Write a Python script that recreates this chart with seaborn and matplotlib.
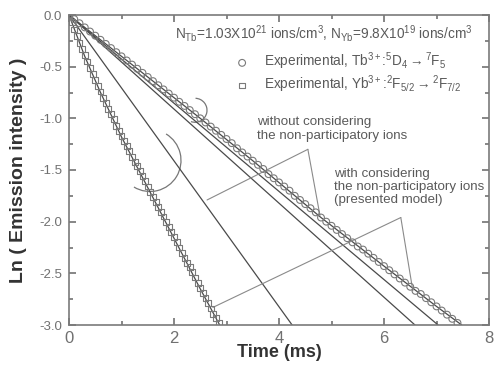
import numpy as np
import pandas as pd
import matplotlib
matplotlib.use("Agg")
import matplotlib.pyplot as plt
from matplotlib.patches import Arc
from matplotlib.ticker import MultipleLocator
import seaborn as sns

# ---------------- data ----------------
tb_time = [0.0, 0.1, 0.2, 0.3, 0.4, 0.5, 0.6, 0.7, 0.8, 0.9, 1.0, 1.1, 1.2, 1.3, 1.4,
           1.5, 1.6, 1.7, 1.8, 1.9, 2.0, 2.1, 2.2, 2.3, 2.4, 2.5, 2.6, 2.7, 2.8, 2.9,
           3.0, 3.1, 3.2, 3.3, 3.4, 3.5, 3.6, 3.7, 3.8, 3.9, 4.0, 4.1, 4.2, 4.3, 4.4,
           4.5, 4.6, 4.7, 4.8, 4.9, 5.0, 5.1, 5.2, 5.3, 5.4, 5.5, 5.6, 5.7, 5.8, 5.9,
           6.0, 6.1, 6.2, 6.3, 6.4, 6.5, 6.6, 6.7, 6.8, 6.9, 7.0, 7.1, 7.2, 7.3, 7.4]
tb_ln = [0.00, -0.04, -0.08, -0.12, -0.16, -0.20, -0.24, -0.28, -0.32, -0.36, -0.40,
         -0.44, -0.48, -0.52, -0.56, -0.60, -0.64, -0.68, -0.72, -0.76, -0.80, -0.84,
         -0.88, -0.92, -0.96, -1.00, -1.04, -1.08, -1.12, -1.16, -1.20, -1.24, -1.29,
         -1.33, -1.37, -1.41, -1.45, -1.49, -1.54, -1.58, -1.62, -1.66, -1.70, -1.75,
         -1.79, -1.83, -1.87, -1.91, -1.96, -2.00, -2.04, -2.08, -2.12, -2.16, -2.20,
         -2.24, -2.27, -2.31, -2.35, -2.39, -2.43, -2.47, -2.51, -2.55, -2.59, -2.63,
         -2.67, -2.70, -2.74, -2.78, -2.82, -2.86, -2.90, -2.94, -2.98]

yb_time = [0.00, 0.05, 0.10, 0.15, 0.20, 0.25, 0.30, 0.35, 0.40, 0.45, 0.50, 0.55,
           0.60, 0.65, 0.70, 0.75, 0.80, 0.85, 0.90, 0.95, 1.00, 1.05, 1.10, 1.15,
           1.20, 1.25, 1.30, 1.35, 1.40, 1.45, 1.50, 1.55, 1.60, 1.65, 1.70, 1.75,
           1.80, 1.85, 1.90, 1.95, 2.00, 2.05, 2.10, 2.15, 2.20, 2.25, 2.30, 2.35,
           2.40, 2.45, 2.50, 2.55, 2.60, 2.65, 2.70, 2.75, 2.80, 2.85]
yb_ln = [0.00, -0.07, -0.14, -0.20, -0.27, -0.33, -0.39, -0.45, -0.51, -0.57, -0.63,
         -0.69, -0.74, -0.80, -0.85, -0.91, -0.96, -1.01, -1.07, -1.12, -1.17, -1.22,
         -1.27, -1.32, -1.37, -1.42, -1.46, -1.51, -1.56, -1.61, -1.66, -1.71, -1.76,
         -1.81, -1.86, -1.91, -1.95, -2.00, -2.05, -2.10, -2.15, -2.20, -2.25, -2.30,
         -2.35, -2.40, -2.44, -2.49, -2.54, -2.59, -2.64, -2.69, -2.74, -2.79, -2.84,
         -2.89, -2.93, -2.98]

# model curves (with considering the non-participatory ions)
tb_model_t = [0.0, 1.0, 2.5, 3.5, 4.8, 6.0, 7.0, 7.48]
tb_model_y = [0.00, -0.40, -1.00, -1.41, -1.96, -2.43, -2.82, -3.00]
yb_model_t = [0.0, 0.3, 0.6, 1.0, 1.5, 2.0, 2.5, 2.87]
yb_model_y = [0.00, -0.40, -0.75, -1.18, -1.67, -2.16, -2.65, -3.00]

# straight lines (without considering the non-participatory ions)
line_a_t = [0.0, 4.25]
line_a_y = [0.0, -3.0]
line_b_t = [0.0, 6.59]
line_b_y = [0.0, -3.0]
line_c_t = [0.0, 7.03]
line_c_y = [0.0, -3.0]

tb_label = r'Experimental, Tb$^{3+}$:$^{5}$D$_{4}$$\rightarrow$$^{7}$F$_{5}$'
yb_label = r'Experimental, Yb$^{3+}$:$^{2}$F$_{5/2}$$\rightarrow$$^{2}$F$_{7/2}$'
conc_text = (r'N$_{\mathrm{Tb}}$=1.03X10$^{21}$ ions/cm$^{3}$, '
             r'N$_{\mathrm{Yb}}$=9.8X10$^{19}$ ions/cm$^{3}$')

# ---------------- style ----------------
sns.set_theme(style="ticks")
plt.rcParams['font.family'] = ['Liberation Sans', 'DejaVu Sans']
plt.rcParams['mathtext.fontset'] = 'custom'
plt.rcParams['mathtext.rm'] = 'Liberation Sans'
plt.rcParams['mathtext.it'] = 'Liberation Sans:italic'
plt.rcParams['mathtext.bf'] = 'Liberation Sans:bold'

GRAY_AX = '#7a7a7a'
LINE = '#4a4a4a'
MARK = '#7a7a7a'
TXT = '#5a5a5a'

fig = plt.figure(figsize=(4.94, 3.66), dpi=100)
ax = fig.add_axes([69 / 494, 41 / 366, 420 / 494, 310 / 366])

# straight model lines
for tt, yy in [(line_a_t, line_a_y), (line_b_t, line_b_y), (line_c_t, line_c_y)]:
    sns.lineplot(x=tt, y=yy, ax=ax, color=LINE, lw=0.9, sort=False)
# model curves
sns.lineplot(x=tb_model_t, y=tb_model_y, ax=ax, color=LINE, lw=0.9, sort=False)
sns.lineplot(x=yb_model_t, y=yb_model_y, ax=ax, color=LINE, lw=0.9, sort=False)

# experimental points
sns.scatterplot(x=tb_time, y=tb_ln, ax=ax, marker='o', s=24, facecolor='none',
                edgecolor=MARK, linewidth=0.8, label=tb_label, zorder=3)
sns.scatterplot(x=yb_time, y=yb_ln, ax=ax, marker='s', s=18, facecolor='none',
                edgecolor=MARK, linewidth=0.8, label=yb_label, zorder=3)

ax.set_xlim(0, 8)
ax.set_ylim(-3.0, 0.0)
ax.set_xticks([0, 2, 4, 6, 8])
ax.set_xticklabels(['0', '2', '4', '6', '8'])
ax.set_yticks([0.0, -0.5, -1.0, -1.5, -2.0, -2.5, -3.0])
ax.set_yticklabels(['0.0', '-0.5', '-1.0', '-1.5', '-2.0', '-2.5', '-3.0'])
ax.xaxis.set_minor_locator(MultipleLocator(1))
ax.yaxis.set_minor_locator(MultipleLocator(0.25))
ax.tick_params(which='both', direction='in', top=True, right=True,
               bottom=True, left=True, color='#666666', width=1.1)
ax.tick_params(which='major', length=5)
ax.tick_params(which='minor', length=3)
ax.tick_params(axis='x', labelsize=12, labelcolor='#707070', pad=4)
ax.tick_params(axis='y', labelsize=9.5, labelcolor='#707070', pad=5)
for s in ax.spines.values():
    s.set_color(GRAY_AX)
    s.set_linewidth(1.2)

ax.set_xlabel('Time (ms)', fontsize=13, fontweight='bold', color='#333333', labelpad=-1)
ax.set_ylabel('Ln ( Emission intensity )', fontsize=14, fontweight='bold',
              color='#333333', labelpad=9)

leg = ax.legend(loc='upper left', bbox_to_anchor=(0.383, 0.902), frameon=False,
                fontsize=9.8, handletextpad=1.1, labelspacing=0.08, borderaxespad=0,
                handlelength=1.0, labelcolor=TXT)

ax.text(2.02, -0.175, conc_text, fontsize=9.8, color=TXT, va='center', ha='left')

ax.text(3.58, -1.10, 'without considering\nthe non-participatory ions', fontsize=9.6,
        color=TXT, va='center', ha='left', linespacing=1.25)
ax.text(5.05, -1.665, 'with considering\nthe non-participatory ions\n(presented model)',
        fontsize=9.6, color=TXT, va='center', ha='left', linespacing=1.12)

# leader lines
ann_without = [((4.55, -1.30), (2.63, -1.79)), ((4.55, -1.30), (4.78, -1.94))]
ann_with = [((6.32, -1.96), (2.74, -2.83)), ((6.32, -1.96), (6.55, -2.67))]
for (a, b) in ann_without + ann_with:
    ax.plot([a[0], b[0]], [a[1], b[1]], color='#8a8a8a', lw=0.8)

# arcs marking the curve groups
ax.add_patch(Arc((2.40, -0.922), 24 / 52.5, 24 / 103.3, theta1=-125, theta2=85,
                 color='#777777', lw=0.9))
ax.add_patch(Arc((1.543, -1.408), 62 / 52.5, 62 / 103.3, theta1=-140, theta2=40,
                 color='#777777', lw=0.9))

fig.savefig('out.png', dpi=100)
